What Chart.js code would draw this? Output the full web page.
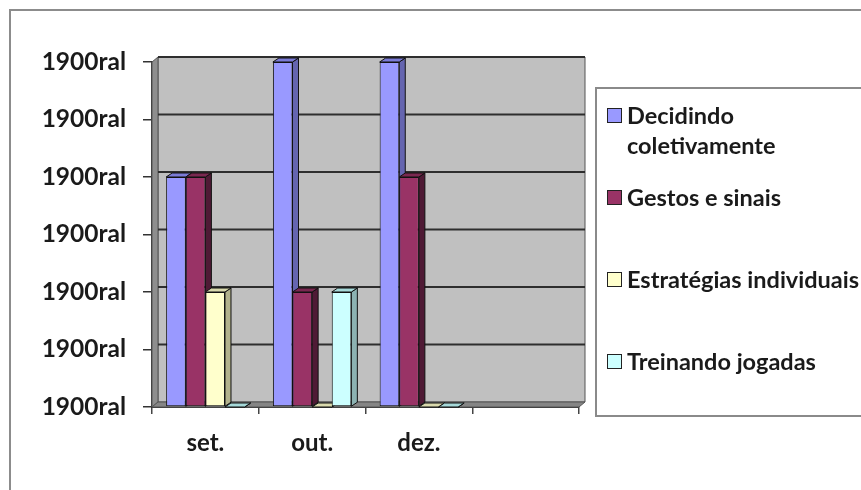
<!DOCTYPE html>
<html lang="pt">
<head>
  <meta charset="UTF-8" />
  <title>Atividades</title>
  <script src="https://cdn.jsdelivr.net/npm/chart.js"></script>
  <style>
    html, body {
      margin: 0;
      padding: 0;
      overflow: hidden;
      background: #fff;
    }
    .wrap {
      position: relative;
      width: 861px;
      height: 490px;
      overflow: hidden;
    }
    .frame {
      position: absolute;
      left: 9px;
      top: 9px;
      width: 900px;
      height: 520px;
      border: 2px solid #8c8c8c;
    }
    canvas {
      position: absolute;
      left: 0;
      top: 0;
    }
    .legend {
      position: absolute;
      left: 595px;
      top: 87px;
      width: 320px;
      height: 330px;
      border: 2px solid #8a8a8a;
      padding-top: 11px;
      box-sizing: border-box;
      font-family: Lato, "Open Sans", sans-serif;
      font-weight: bold;
      font-size: 23.5px;
      color: #1a1a1a;
    }
    .legend .item {
      display: flex;
      align-items: flex-start;
      height: 82px;
      padding-left: 10px;
    }
    .legend .box {
      width: 13px;
      height: 13px;
      border: 1.5px solid #222;
      margin-top: 8px;
      margin-right: 5px;
      flex: none;
    }
    .legend .txt {
      line-height: 30px;
      max-width: 248px;
    }
  </style>
</head>
<body>
  <div class="wrap">
    <div class="frame"></div>
    <canvas id="chart" width="861" height="490"></canvas>
    <div class="legend" id="legend"></div>
  </div>

  <script>
    const categories = ['set.', 'out.', 'dez.', ''];
    const seriesNames = ['Decidindo coletivamente', 'Gestos e sinais', 'Estratégias individuais', 'Treinando jogadas'];
    const decidindo = [4, 6, 6, null];
    const gestos = [4, 2, 4, null];
    const estrategias = [2, 0, 0, null];
    const treinando = [0, 2, 0, null];
    const yTickLabels = ['1900ral', '1900ral', '1900ral', '1900ral', '1900ral', '1900ral', '1900ral'];

    const fronts = ['#9999ff', '#993366', '#ffffcc', '#ccffff'];
    const sides = ['#6565b0', '#4f1a35', '#b2b28c', '#8cb2b2'];
    const tops = ['#7b7bd6', '#7a2850', '#d9d9ad', '#a6d9d9'];

    const BAR_DX = 6, BAR_DY = 4;
    const WALL_DX = 6, WALL_DY = 5;

    function poly(ctx, pts, fill, stroke) {
      ctx.beginPath();
      ctx.moveTo(pts[0][0], pts[0][1]);
      for (let i = 1; i < pts.length; i++) ctx.lineTo(pts[i][0], pts[i][1]);
      ctx.closePath();
      ctx.fillStyle = fill;
      ctx.fill();
      if (stroke) {
        ctx.strokeStyle = stroke;
        ctx.lineWidth = 1;
        ctx.stroke();
      }
    }

    // excel style 3d wall, floor and bar depth
    const depthPlugin = {
      id: 'depth',
      beforeDatasetsDraw(chart) {
        const { ctx, chartArea: a } = chart;
        const yScale = chart.scales.y;
        ctx.save();
        // back wall
        poly(ctx, [[a.left + WALL_DX, a.top - WALL_DY], [a.right + WALL_DX, a.top - WALL_DY],
                   [a.right + WALL_DX, a.bottom - WALL_DY], [a.left + WALL_DX, a.bottom - WALL_DY]], '#c0c0c0', '#555');
        // left side wall
        poly(ctx, [[a.left, a.top], [a.left + WALL_DX, a.top - WALL_DY],
                   [a.left + WALL_DX, a.bottom - WALL_DY], [a.left, a.bottom]], '#8e8e8e', '#555');
        // floor
        poly(ctx, [[a.left, a.bottom], [a.left + WALL_DX, a.bottom - WALL_DY],
                   [a.right + WALL_DX, a.bottom - WALL_DY], [a.right, a.bottom]], '#858585', '#555');
        // gridlines on the back wall
        ctx.strokeStyle = '#2e2e2e';
        ctx.lineWidth = 2;
        yScale.ticks.forEach(t => {
          const y = yScale.getPixelForValue(t.value) - WALL_DY;
          if (t.value === 0) return;
          ctx.beginPath();
          ctx.moveTo(a.left + WALL_DX, y);
          ctx.lineTo(a.right + WALL_DX, y);
          ctx.stroke();
        });
        // bar sides and tops
        categories.forEach((_, i) => {
          chart.data.datasets.forEach((ds, d) => {
            if (ds.data[i] == null) return;
            const bar = chart.getDatasetMeta(d).data[i];
            const p = bar.getProps(['x', 'y', 'width', 'base'], true);
            const l = p.x - p.width / 2, r = p.x + p.width / 2;
            poly(ctx, [[r, p.y], [r + BAR_DX, p.y - BAR_DY], [r + BAR_DX, p.base - BAR_DY], [r, p.base]], sides[d], '#111');
            poly(ctx, [[l, p.y], [l + BAR_DX, p.y - BAR_DY], [r + BAR_DX, p.y - BAR_DY], [r, p.y]], tops[d], '#111');
          });
        });
        ctx.restore();
      }
    };

    const series = [decidindo, gestos, estrategias, treinando];

    const ctx = document.getElementById('chart').getContext('2d');
    const chart = new Chart(ctx, {
      type: 'bar',
      data: {
        labels: categories,
        datasets: series.map((values, i) => ({
          label: seriesNames[i],
          data: values,
          backgroundColor: fronts[i],
          borderColor: '#111',
          borderWidth: 1,
          borderSkipped: false,
          categoryPercentage: 0.735,
          barPercentage: 1
        }))
      },
      options: {
        responsive: false,
        animation: false,
        layout: { padding: { top: 62, right: 282, left: 0, bottom: 0 } },
        plugins: {
          legend: { display: false },
          tooltip: { enabled: false }
        },
        scales: {
          x: {
            grid: {
              display: true,
              offset: true,
              drawOnChartArea: false,
              tickLength: 7,
              color: '#444',
              lineWidth: 1.5
            },
            border: { display: true, color: '#333', width: 2 },
            ticks: {
              padding: 15,
              color: '#1a1a1a',
              font: { family: 'Lato', weight: 'bold', size: 24 }
            },
            afterFit(scale) { scale.height = 83; }
          },
          y: {
            min: 0,
            max: 6,
            grid: {
              drawOnChartArea: false,
              tickLength: 9,
              color: '#333',
              lineWidth: 1.5
            },
            border: { display: true, color: '#333', width: 1.5 },
            ticks: {
              stepSize: 1,
              padding: 17,
              color: '#1a1a1a',
              font: { family: 'Lato', weight: 'bold', size: 24.5 },
              callback: (v, i) => yTickLabels[i]
            },
            afterFit(scale) { scale.width = 152; }
          }
        }
      },
      plugins: [depthPlugin]
    });

    // legend box like the original
    const legend = document.getElementById('legend');
    seriesNames.forEach((name, i) => {
      const item = document.createElement('div');
      item.className = 'item';
      const box = document.createElement('span');
      box.className = 'box';
      box.style.background = fronts[i];
      const txt = document.createElement('span');
      txt.className = 'txt';
      txt.textContent = name;
      item.appendChild(box);
      item.appendChild(txt);
      legend.appendChild(item);
    });
  </script>
</body>
</html>
